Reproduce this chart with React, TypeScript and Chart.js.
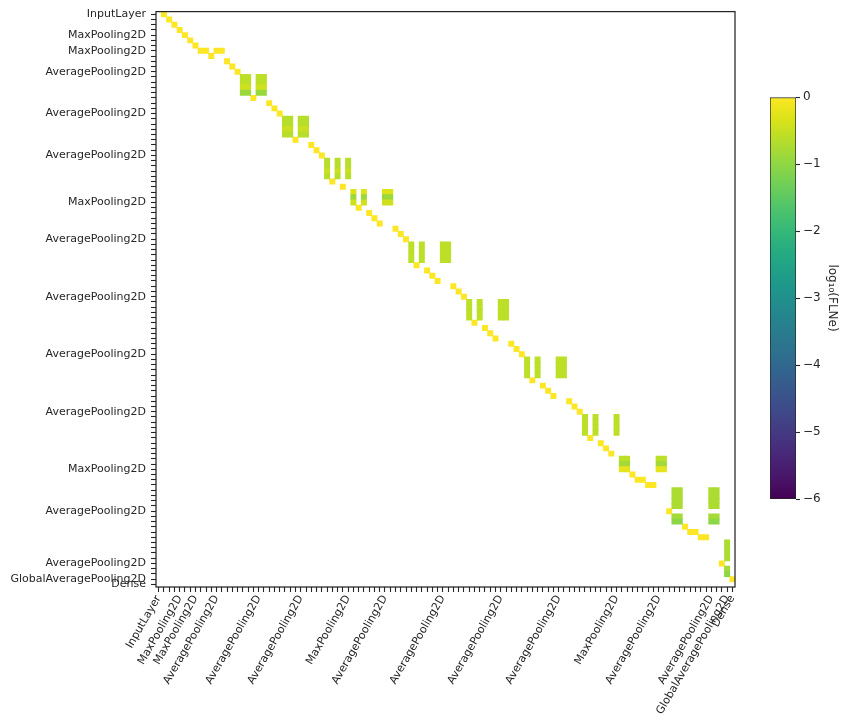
import React, { useEffect, useRef } from 'react';
import { Chart, registerables } from 'chart.js';

Chart.register(...registerables);

// ---- Data -------------------------------------------------------------------------
// Layer positions 0..109 on both axes; only the labelled layers carry a tick label.
const layerCount = 110;
const labeledLayers: [number, string][] = [
  [0, 'InputLayer'],
  [4, 'MaxPooling2D'],
  [7, 'MaxPooling2D'],
  [11, 'AveragePooling2D'],
  [19, 'AveragePooling2D'],
  [27, 'AveragePooling2D'],
  [36, 'MaxPooling2D'],
  [43, 'AveragePooling2D'],
  [54, 'AveragePooling2D'],
  [65, 'AveragePooling2D'],
  [76, 'AveragePooling2D'],
  [87, 'MaxPooling2D'],
  [95, 'AveragePooling2D'],
  [105, 'AveragePooling2D'],
  [108, 'GlobalAveragePooling2D'],
  [109, 'Dense'],
];

// Single-input links (log10 FLNe = 0, yellow): [source row, target column]
const singleLinks: [number, number][] = [
  [0, 1], [1, 2], [2, 3], [3, 4], [4, 5], [5, 6], [6, 7],
  [7, 8], [7, 9], [7, 11], [7, 12], [8, 10], [9, 13], [10, 14], [11, 15],
  [16, 18], [17, 21], [18, 22], [19, 23],
  [24, 26], [25, 29], [26, 30], [27, 31],
  [32, 33], [33, 35],
  [37, 38], [38, 40], [40, 42], [42, 46], [39, 41], [41, 45], [43, 47],
  [48, 49], [49, 51], [51, 53], [53, 57], [50, 52], [52, 56], [54, 58],
  [59, 60], [60, 62], [62, 64], [64, 68], [61, 63], [63, 67], [65, 69],
  [70, 71], [71, 73], [73, 75], [75, 79], [72, 74], [74, 78], [76, 80],
  [81, 82], [82, 84], [84, 86], [83, 85],
  [88, 90], [89, 91], [89, 92], [90, 93], [90, 94], [95, 97],
  [98, 100], [99, 101], [99, 102], [100, 103], [100, 104], [105, 107],
  [108, 109],
];

// Green blocks: each source row feeds each target column with the row's log10 FLNe
const blockRows: number[][] = [
  [12, 13, 14, 15],
  [20, 21, 22, 23],
  [28, 29, 30, 31],
  [34, 35, 36],
  [44, 45, 46, 47],
  [55, 56, 57, 58],
  [66, 67, 68, 69],
  [77, 78, 79, 80],
  [85, 86, 87],
  [91, 92, 93, 94, 96, 97],
  [101, 102, 103, 104, 106, 107],
];
const blockLogs: number[][] = [
  [-0.6, -0.6, -0.43, -0.9],
  [-0.65, -0.65, -0.48, -0.65],
  [-0.65, -0.65, -0.48, -0.65],
  [-0.3, -0.9, -0.43],
  [-0.6, -0.6, -0.6, -0.6],
  [-0.6, -0.6, -0.6, -0.6],
  [-0.6, -0.6, -0.6, -0.6],
  [-0.6, -0.6, -0.6, -0.6],
  [-0.6, -0.82, -0.22],
  [-0.73, -0.73, -0.73, -0.73, -0.81, -1.03],
  [-0.73, -0.73, -0.73, -0.73, -0.81, -1.03],
];
const blockCols: number[][] = [
  [16, 17, 19, 20],
  [24, 25, 27, 28],
  [32, 34, 36],
  [37, 39, 43, 44],
  [48, 50, 54, 55],
  [59, 61, 65, 66],
  [70, 72, 76, 77],
  [81, 83, 87],
  [88, 89, 95, 96],
  [98, 99, 105, 106],
  [108],
];

const colorbarMin = -6;
const colorbarMax = 0;
const colorbarTicks = [0, -1, -2, -3, -4, -5, -6];
const colorbarTitle = 'log\u2081\u2080(FLNe)';

// viridis palette
const viridisStops = [
  '#440154', '#481568', '#482677', '#453781', '#3F4788', '#39558C', '#32648E',
  '#2D718E', '#287D8E', '#238A8D', '#1F968B', '#20A386', '#29AF7F', '#3CBC75',
  '#56C667', '#75D054', '#95D840', '#B8DE29', '#DCE318', '#FDE725',
];

// ---- helpers ----------------------------------------------------------------------
const FONT = "'DejaVu Sans', sans-serif";
const TEXT = '#262626';

function hexToRgb(h: string) {
  const n = parseInt(h.slice(1), 16);
  return [(n >> 16) & 255, (n >> 8) & 255, n & 255];
}
function viridis(t: number) {
  const tt = Math.max(0, Math.min(1, t));
  const p = tt * (viridisStops.length - 1);
  const i = Math.min(Math.floor(p), viridisStops.length - 2);
  const f = p - i;
  const a = hexToRgb(viridisStops[i]);
  const b = hexToRgb(viridisStops[i + 1]);
  const c = a.map((v, k) => Math.round(v + (b[k] - v) * f));
  return `rgb(${c[0]},${c[1]},${c[2]})`;
}
function colorFor(v: number) {
  return viridis((v - colorbarMin) / (colorbarMax - colorbarMin));
}

const labelMap = new Map<number, string>(labeledLayers);
const tickValues = Array.from({ length: layerCount }, (_, i) => i);

type Cell = { x: number; y: number; v: number };
const cells: Cell[] = [
  ...singleLinks.map(([r, c]) => ({ x: c, y: r, v: 0 })),
  ...blockRows.flatMap((rows, b) =>
    rows.flatMap((r, k) => blockCols[b].map((c) => ({ x: c, y: r, v: blockLogs[b][k] })))
  ),
];

const framePlugin = {
  id: 'frame',
  afterDatasetsDraw(chart: any) {
    const { ctx, chartArea: a } = chart;
    ctx.save();
    ctx.strokeStyle = TEXT;
    ctx.lineWidth = 1.25;
    ctx.strokeRect(a.left, a.top, a.right - a.left, a.bottom - a.top);
    ctx.restore();
  },
};

// half-diagonal of one cell (rect point style side = radius * sqrt2), slightly enlarged to hide seams
function cellRadius(chart: any) {
  const s = chart.scales.x;
  if (!s) return 2;
  return (Math.abs(s.getPixelForValue(1) - s.getPixelForValue(0)) + 0.7) / Math.SQRT2;
}

export default function App() {
  const mainRef = useRef<HTMLCanvasElement>(null);
  const cbRef = useRef<HTMLCanvasElement>(null);

  useEffect(() => {
    const tickFont = { family: FONT, size: 11 };
    const axisCommon = (isX: boolean) => ({
      type: 'linear' as const,
      min: -0.5,
      max: layerCount - 0.5,
      reverse: !isX,
      afterBuildTicks: (s: any) => {
        s.ticks = tickValues.map((v) => ({ value: v }));
      },
      afterFit: (s: any) => {
        if (isX) s.height = 134;
        else s.width = 156;
      },
      ticks: {
        autoSkip: false,
        font: tickFont,
        color: TEXT,
        padding: isX ? 1 : 5,
        minRotation: isX ? 60 : 0,
        maxRotation: isX ? 60 : 0,
        callback: (v: any) => labelMap.get(Number(v)) ?? '',
      },
      grid: {
        display: true,
        drawOnChartArea: false,
        drawTicks: true,
        tickLength: 5,
        tickWidth: 1.1,
        color: TEXT,
      },
      border: { display: false },
    });

    const main = new Chart(mainRef.current!, {
      type: 'scatter',
      data: {
        datasets: [
          {
            data: cells as any,
            pointStyle: 'rect',
            pointRadius: (ctx: any) => cellRadius(ctx.chart),
            pointHoverRadius: (ctx: any) => cellRadius(ctx.chart),
            borderWidth: 0,
            backgroundColor: (ctx: any) => colorFor(ctx.raw ? ctx.raw.v : 0),
          } as any,
        ],
      },
      options: {
        animation: false,
        responsive: false,
        events: [],
        layout: { padding: { left: 0, top: 8, right: 25, bottom: 0 } },
        plugins: { legend: { display: false }, tooltip: { enabled: false } },
        scales: { x: axisCommon(true) as any, y: axisCommon(false) as any },
      },
      plugins: [framePlugin],
    });

    const cb = new Chart(cbRef.current!, {
      type: 'bar',
      data: {
        labels: [''],
        datasets: [
          {
            data: [[colorbarMin, colorbarMax]] as any,
            backgroundColor: (ctx: any) => {
              const area = ctx.chart.chartArea;
              if (!area) return viridisStops[viridisStops.length - 1];
              const g = ctx.chart.ctx.createLinearGradient(0, area.bottom, 0, area.top);
              viridisStops.forEach((c, i) => g.addColorStop(i / (viridisStops.length - 1), c));
              return g;
            },
            borderColor: TEXT,
            borderWidth: 1,
            borderSkipped: false,
            barPercentage: 1,
            categoryPercentage: 1,
          } as any,
        ],
      },
      options: {
        animation: false,
        responsive: false,
        events: [],
        layout: { padding: { left: 10, top: 97, right: 0, bottom: 222 } },
        plugins: { legend: { display: false }, tooltip: { enabled: false } },
        scales: {
          x: { display: false },
          y: {
            position: 'right',
            min: colorbarMin,
            max: colorbarMax,
            afterBuildTicks: (s: any) => {
              s.ticks = colorbarTicks.map((v) => ({ value: v }));
            },
            afterFit: (s: any) => {
              s.width = 45;
            },
            ticks: {
              font: { family: FONT, size: 12 },
              color: TEXT,
              padding: 3,
              callback: (v: any) => (Number(v) < 0 ? '\u2212' + Math.abs(Number(v)) : String(v)),
            },
            grid: {
              drawOnChartArea: false,
              drawTicks: true,
              tickLength: 4,
              tickWidth: 1.1,
              color: TEXT,
            },
            border: { display: false },
            title: {
              display: true,
              text: colorbarTitle,
              font: { family: FONT, size: 12 },
              color: TEXT,
              padding: { top: 2, bottom: 0 },
            },
          } as any,
        },
      },
    });

    return () => {
      main.destroy();
      cb.destroy();
    };
  }, []);

  return (
    <div style={{ position: 'absolute', left: 0, top: 0, width: 841, height: 721, background: '#fff' }}>
      <canvas
        ref={mainRef}
        width={760}
        height={721}
        style={{ position: 'absolute', left: 0, top: 0, width: 760, height: 721 }}
      />
      <canvas
        ref={cbRef}
        width={81}
        height={721}
        style={{ position: 'absolute', left: 760, top: 0, width: 81, height: 721 }}
      />
    </div>
  );
}
